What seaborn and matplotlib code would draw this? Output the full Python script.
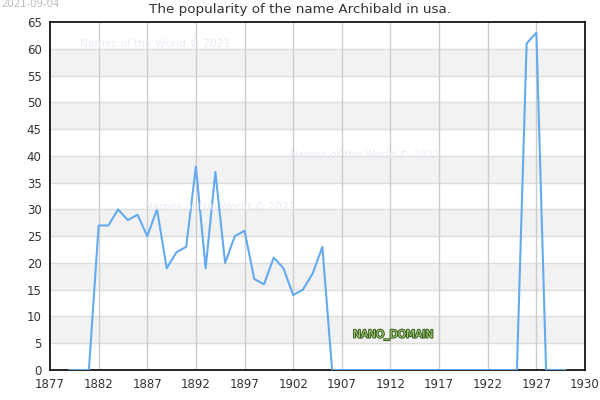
import pandas as pd
import seaborn as sns
import matplotlib.pyplot as plt
import matplotlib.patheffects as pe

# Data
years = list(range(1879, 1931))
counts = [0, 0, 0, 27, 27, 30, 28, 29, 25, 30,
          19, 22, 23, 38, 19, 37, 20, 25, 26, 17,
          16, 21, 19, 14, 15, 18, 23, 0, 0, 0,
          0, 0, 0, 0, 0, 0, 0, 0, 0, 0,
          0, 0, 0, 0, 0, 0, 0, 61, 63, 0,
          0, 0]

xtick_pos = [1877, 1882, 1887, 1892, 1897, 1902, 1907, 1912, 1917, 1922, 1927, 1932]
xtick_labels = ['1877', '1882', '1887', '1892', '1897', '1902', '1907', '1912',
                '1917', '1922', '1927', '1930']
yticks = list(range(0, 66, 5))

df = pd.DataFrame({'year': years, 'count': counts})

sns.set_style('white')
plt.rcParams['font.family'] = ['DejaVu Sans']

fig = plt.figure(figsize=(6, 4), dpi=100)
ax = fig.add_axes([50/600, 30/400, 535/600, 348/400])

# alternating bands + grid
for lo in range(5, 65, 10):
    ax.axhspan(lo, lo + 5, color='#f2f2f2', zorder=0, lw=0)
for y in yticks[1:-1]:
    ax.axhline(y, color='#dddddd', lw=1, zorder=1)
for x in xtick_pos[1:-1]:
    ax.axvline(x, color='#cccccc', lw=1, zorder=1)

sns.lineplot(data=df, x='year', y='count', ax=ax, color='#64aaf0', lw=1.5, zorder=3)

ax.set_xlim(1877, 1932)
ax.set_ylim(0, 65)
ax.set_xticks(xtick_pos)
ax.set_xticklabels(xtick_labels)
ax.set_yticks(yticks)
ax.tick_params(length=0, labelsize=8.5, colors='#333333', pad=6)
ax.set_xlabel('')
ax.set_ylabel('')
for s in ax.spines.values():
    s.set_color('black')
    s.set_linewidth(1.2)

fig.text(0.5, 1 - 10/400, 'The popularity of the name Archibald in usa.', ha='center',
         va='center', fontsize=9.7, color='#333333')
fig.text(0.002, 0.99, '2021-09-04', ha='left', va='center', fontsize=7.3, color='#bbbbbb')

wm = '#ebebf8'
fig.text(80/600, 1 - 44/400, 'Names of the World © 2021', fontsize=7.7, color=wm, va='center')
fig.text(290/600, 1 - 155/400, 'Names of the World © 2021', fontsize=7.7, color=wm, va='center')
fig.text(145/600, 1 - 207/400, 'Names of the World © 2021', fontsize=7.7, color=wm, va='center')

fig.text(353/600, 1 - 335/400, 'NANO_DOMAIN', fontsize=7.6, color='#a8d080', va='center',
         path_effects=[pe.withStroke(linewidth=1.5, foreground='#3a6020')])

fig.savefig('out.png', dpi=100)
plt.close()
